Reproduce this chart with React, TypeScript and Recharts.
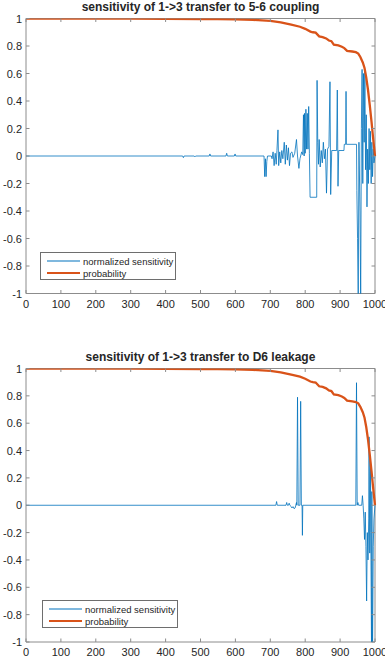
import { LineChart, Line, XAxis, YAxis, ReferenceArea, Legend } from 'recharts'

// tick values
const xTicks = [0, 100, 200, 300, 400, 500, 600, 700, 800, 900, 1000]
const yTicks = [-1, -0.8, -0.6, -0.4, -0.2, 0, 0.2, 0.4, 0.6, 0.8, 1]

const titles = ['sensitivity of 1->3 transfer to 5-6 coupling', 'sensitivity of 1->3 transfer to D6 leakage']
const seriesNames = ['normalized sensitivity', 'probability']

// probability curve (same in both panels)
const probX = [0, 100, 200, 300, 400, 500, 550, 600, 650, 700, 730, 760, 785, 800, 815, 822, 830, 840, 850, 860, 868, 875, 882, 895, 905, 912, 920, 935, 945, 952, 958, 965, 970, 975, 980, 985, 990, 995, 1000]
const probY = [1, 1, 1, 0.999, 0.998, 0.996, 0.995, 0.993, 0.99, 0.982, 0.972, 0.955, 0.94, 0.925, 0.905, 0.9, 0.897, 0.87, 0.865, 0.855, 0.84, 0.835, 0.81, 0.805, 0.795, 0.785, 0.765, 0.76, 0.755, 0.745, 0.72, 0.68, 0.64, 0.57, 0.48, 0.37, 0.25, 0.12, 0]

// sensitivity to 5-6 coupling
const sens1X = [0, 449, 451, 453, 482, 484, 486, 525, 527, 529, 573, 575, 577, 597, 599, 601, 682, 684, 686, 688, 690, 692, 703, 705, 708, 711, 714, 717, 719, 722, 724, 727, 730, 733, 736, 740, 743, 746, 749, 752, 755, 758, 762, 765, 770, 775, 778, 782, 785, 790, 793, 795, 797, 798, 800, 802, 804, 806, 808, 810, 812, 814, 833, 834, 836, 838, 840, 843, 846, 849, 852, 855, 858, 861, 864, 868, 871, 873, 876, 890, 892, 894, 896, 911, 912, 916, 917, 918, 947, 948, 950, 952, 954, 957, 959, 961, 963, 965, 967, 969, 971, 973, 975, 977, 979, 981, 983, 985, 987, 989, 991, 993, 995, 997, 1000]
const sens1Y = [0, 0, -0.012, 0, 0, -0.006, 0, 0, 0.015, 0, 0, 0.02, 0, 0, 0.015, 0, 0, -0.15, -0.02, -0.15, -0.04, 0, 0, -0.02, 0.03, -0.07, 0.02, -0.06, 0.04, 0.19, -0.07, 0.03, -0.05, 0.04, -0.02, 0.1, -0.06, 0.08, -0.03, 0.06, -0.07, 0.02, 0.03, -0.01, 0.02, 0.12, 0, -0.09, -0.02, 0.03, 0.01, 0.3, 0, 0.31, 0.02, 0.34, 0.05, 0.31, 0.05, 0.36, 0.02, -0.3, -0.3, 0.55, 0.1, -0.06, 0.12, -0.08, 0.04, -0.05, 0.1, -0.02, 0.05, -0.27, 0.05, 0.07, 0.54, -0.28, 0.04, 0.04, 0.48, -0.22, 0.04, 0.04, 0.085, 0.085, 0.47, 0.085, 0.085, -0.25, -0.6, -1.05, 0.1, -0.4, -1.05, 0.2, 0.63, -0.2, 0.6, 0.1, 0.62, -0.1, 0.3, -0.37, 0.05, -0.2, 0.2, -0.1, 0.18, -0.2, 0.1, -0.15, 0.05, -0.05, 0]

// sensitivity to D6 leakage
const sens2X = [0, 716, 718, 720, 745, 747, 749, 752, 754, 756, 760, 762, 765, 768, 771, 773, 775, 776, 778, 780, 785, 787, 789, 791, 792, 793, 945, 947, 949, 951, 953, 962, 964, 966, 968, 970, 972, 974, 976, 978, 980, 982, 983, 985, 987, 988, 990, 991, 993, 995, 997, 1000]
const sens2Y = [0, 0, 0.027, 0, 0, 0.02, 0, 0, 0.015, 0, -0.01, -0.02, -0.01, -0.025, -0.02, 0, 0.02, 0, 0.79, 0, 0, 0.76, 0, 0, -0.22, 0, 0, 0.896, 0, 0.02, 0, 0, 0.07, 0, -0.1, -0.25, -0.05, -0.3, -0.7, -0.2, -0.4, -0.1, 0.5, -0.35, 0.33, -0.2, -1.05, 0.1, -1.05, -0.3, -0.1, 0]

const BLUE = '#0072BD'
const ORANGE = '#D95319'
const INK = '#262626'
const BOX = '#8c8c8c'
const FONT = '"Liberation Sans", Arial, Helvetica, sans-serif'

const W = 385
const H = 314
const LEFT = 26
const RIGHT = 375
const PLOT_TOP = 18.5
const X_AXIS_H = 20

const zip = (xs: number[], ys: number[]) => xs.map((x, i) => ({ x, y: ys[i] }))

function Panel({ top, plotBottom, title, sensX, sensY, legendLeft, legendTop }: any) {
    const sensData = zip(sensX, sensY)
    const probData = zip(probX, probY)

    const XTick = (p: any) => (
        <g>
            <line x1={p.x} x2={p.x} y1={plotBottom} y2={plotBottom - 3.5} stroke={BOX} />
            <line x1={p.x} x2={p.x} y1={PLOT_TOP} y2={PLOT_TOP + 3.5} stroke={BOX} />
            <text x={p.x} y={plotBottom + 14} textAnchor="middle" fontSize={11} fontFamily={FONT} fill={INK}>
                {p.payload.value}
            </text>
        </g>
    )

    const YTick = (p: any) => (
        <g>
            <line x1={LEFT} x2={LEFT + 3.5} y1={p.y} y2={p.y} stroke={BOX} />
            <line x1={RIGHT - 3.5} x2={RIGHT} y1={p.y} y2={p.y} stroke={BOX} />
            <text x={LEFT - 4} y={p.y + 4} textAnchor="end" fontSize={11} fontFamily={FONT} fill={INK}>
                {`${+Number(p.payload.value).toFixed(1)}`}
            </text>
        </g>
    )

    const renderLegend = (props: any) => (
        <div style={{ border: '1px solid #6e6e6e', background: '#fff', width: 136, height: 28, boxSizing: 'border-box', paddingTop: 2, fontFamily: FONT, fontSize: 9.5, color: INK }}>
            {props.payload.map((entry: any) => (
                <div key={entry.value} style={{ display: 'flex', alignItems: 'center', height: 12 }}>
                    <svg width={40} height={12} style={{ flex: 'none' }}>
                        <line x1={6} x2={39} y1={6} y2={6} stroke={entry.color} strokeWidth={entry.color === ORANGE ? 2.2 : 1.2} />
                    </svg>
                    <span style={{ marginLeft: 2, whiteSpace: 'nowrap' }}>{entry.value}</span>
                </div>
            ))}
        </div>
    )

    return (
        <div style={{ position: 'absolute', left: 0, top, width: W, height: H }}>
            <div style={{ position: 'absolute', left: LEFT, width: RIGHT - LEFT, top: 0, height: 15, lineHeight: '15px', textAlign: 'center', fontWeight: 'bold', fontSize: 12, fontFamily: FONT, color: INK, whiteSpace: 'nowrap' }}>
                {title}
            </div>
            <LineChart
                width={W}
                height={H}
                margin={{ top: PLOT_TOP, right: W - RIGHT, left: 0, bottom: H - plotBottom - X_AXIS_H }}
            >
                <XAxis
                    dataKey="x"
                    type="number"
                    domain={[0, 1000]}
                    ticks={xTicks}
                    interval={0}
                    axisLine={false}
                    tickLine={false}
                    height={X_AXIS_H}
                    tick={XTick}
                />
                <YAxis
                    type="number"
                    domain={[-1, 1]}
                    ticks={yTicks}
                    interval={0}
                    allowDataOverflow
                    axisLine={false}
                    tickLine={false}
                    width={LEFT}
                    tick={YTick}
                />
                <ReferenceArea x1={0} x2={1000} y1={-1} y2={1} fill="none" stroke={BOX} strokeWidth={1} />
                <Line
                    data={sensData}
                    dataKey="y"
                    name={seriesNames[0]}
                    type="linear"
                    stroke={BLUE}
                    strokeWidth={0.8}
                    dot={false}
                    isAnimationActive={false}
                />
                <Line
                    data={probData}
                    dataKey="y"
                    name={seriesNames[1]}
                    type="linear"
                    stroke={ORANGE}
                    strokeWidth={2.3}
                    dot={false}
                    isAnimationActive={false}
                />
                <Legend
                    layout="horizontal"
                    verticalAlign="middle"
                    align="center"
                    content={renderLegend}
                    wrapperStyle={{ left: legendLeft, top: legendTop, width: 136, height: 28 }}
                />
            </LineChart>
        </div>
    )
}

export default function App() {
    return (
        <div style={{ position: 'absolute', left: 0, top: 0, width: W, height: 664, background: '#fff', overflow: 'hidden' }}>
            <Panel top={0} plotBottom={293.5} title={titles[0]} sensX={sens1X} sensY={sens1Y} legendLeft={40} legendTop={252} />
            <Panel top={350} plotBottom={292} title={titles[1]} sensX={sens2X} sensY={sens2Y} legendLeft={42} legendTop={250} />
        </div>
    )
}
